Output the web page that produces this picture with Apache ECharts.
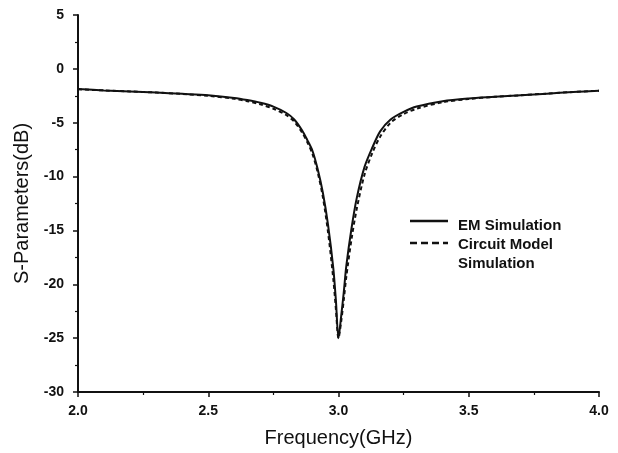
<!DOCTYPE html>
<html>
<head>
<meta charset="utf-8">
<script src="https://cdn.jsdelivr.net/npm/echarts@6/dist/echarts.min.js"></script>
<style>
  html, body { margin: 0; padding: 0; background: #fff; }
  #chart { width: 618px; height: 453px; }
</style>
</head>
<body>
<div id="chart"></div>
<script>
// 频率 (GHz)
const freq = [2.0, 2.1, 2.2, 2.3, 2.4, 2.5, 2.6, 2.65, 2.7, 2.75, 2.8, 2.83, 2.86, 2.88, 2.9, 2.92, 2.94, 2.96, 2.98, 2.99,
  3.0, 3.01, 3.02, 3.03, 3.05, 3.07, 3.1, 3.13, 3.16, 3.2, 3.25, 3.3, 3.4, 3.5, 3.6, 3.7, 3.8, 3.9, 4.0];
// EM Simulation (dB)
const emSim = [-1.88, -2.0, -2.1, -2.2, -2.32, -2.45, -2.7, -2.9, -3.15, -3.5, -4.1, -4.7, -5.7, -6.6, -7.6, -9.3, -11.5, -14.5, -18.5, -21.5,
  -25.0, -23.0, -20.8, -18.3, -14.8, -12.0, -9.1, -7.3, -5.8, -4.7, -4.0, -3.5, -3.0, -2.75, -2.6, -2.45, -2.3, -2.15, -2.03];
// Circuit Model Simulation (dB)
const circuitSim = [-1.9, -2.0, -2.1, -2.2, -2.33, -2.5, -2.78, -3.0, -3.3, -3.7, -4.3, -4.9, -5.9, -6.8, -7.9, -9.6, -11.9, -15.2, -19.5, -22.3,
  -25.0, -23.5, -21.5, -19.3, -15.8, -13.0, -9.8, -7.8, -6.3, -5.0, -4.2, -3.7, -3.1, -2.8, -2.6, -2.45, -2.3, -2.15, -2.03];

const seriesNames = ['EM Simulation', 'Circuit Model\nSimulation'];

const pairs = (ys) => freq.map((f, i) => [f, ys[i]]);

const chart = echarts.init(document.getElementById('chart'));
const fontFamily = 'Liberation Sans, Arial, sans-serif';
const axisFont = { color: '#111', fontFamily: fontFamily, fontWeight: 'bold', fontSize: 14 };
const nameFont = { color: '#111', fontFamily: fontFamily, fontSize: 20 };
const legendText = { fill: '#111', fontFamily: fontFamily, fontWeight: 'bold', fontSize: 15, lineHeight: 19 };

chart.setOption({
  animation: false,
  backgroundColor: '#fff',
  grid: { left: 78, right: 19, top: 15, bottom: 52 },
  // 图例 (手动绘制，使线条与第一行文字对齐)
  graphic: [
    { type: 'line', shape: { x1: 410, y1: 221, x2: 448, y2: 221 }, style: { stroke: '#111', lineWidth: 2.5 } },
    { type: 'text', left: 458, top: 216, style: Object.assign({ text: seriesNames[0] }, legendText) },
    { type: 'line', shape: { x1: 410, y1: 243, x2: 448, y2: 243 }, style: { stroke: '#111', lineWidth: 2.5, lineDash: [7, 4] } },
    { type: 'text', left: 458, top: 235, style: Object.assign({ text: seriesNames[1] }, legendText) }
  ],
  xAxis: {
    type: 'value',
    min: 2, max: 4, interval: 0.5,
    name: 'Frequency(GHz)',
    nameLocation: 'middle',
    nameGap: 36,
    nameTextStyle: nameFont,
    axisLine: { show: true, onZero: false, lineStyle: { color: '#111', width: 2 } },
    axisTick: { show: true, inside: false, length: 5, lineStyle: { color: '#111', width: 1.5 } },
    minorTick: { show: true, splitNumber: 2, length: 3, lineStyle: { color: '#111', width: 1.2 } },
    axisLabel: Object.assign({ margin: 12, formatter: (v) => v.toFixed(1) }, axisFont),
    splitLine: { show: false }
  },
  yAxis: {
    type: 'value',
    min: -30, max: 5, interval: 5,
    name: 'S-Parameters(dB)',
    nameLocation: 'middle',
    nameGap: 43,
    nameTextStyle: nameFont,
    axisLine: { show: true, onZero: false, lineStyle: { color: '#111', width: 2 } },
    axisTick: { show: true, inside: false, length: 5, lineStyle: { color: '#111', width: 1.5 } },
    minorTick: { show: true, splitNumber: 2, length: 3, lineStyle: { color: '#111', width: 1.2 } },
    axisLabel: Object.assign({ margin: 14 }, axisFont),
    splitLine: { show: false }
  },
  series: [
    {
      name: seriesNames[0],
      type: 'line',
      data: pairs(emSim),
      symbol: 'none',
      smooth: 0.3,
      z: 3,
      lineStyle: { color: '#111', width: 2 }
    },
    {
      name: seriesNames[1],
      type: 'line',
      data: pairs(circuitSim),
      symbol: 'none',
      smooth: 0.3,
      z: 2,
      lineStyle: { color: '#111', width: 2, type: [4, 3] }
    }
  ]
});
</script>
</body>
</html>
